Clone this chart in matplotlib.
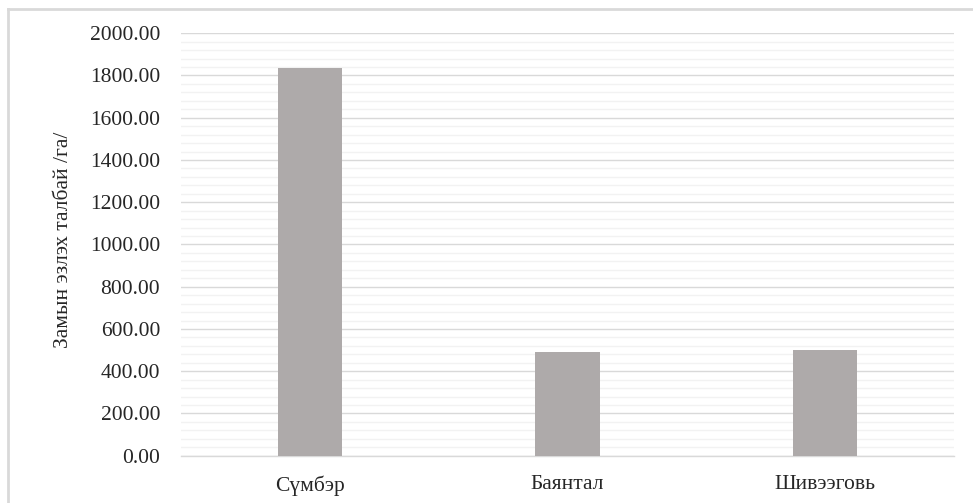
import matplotlib
matplotlib.use("Agg")
import matplotlib.pyplot as plt
from matplotlib.ticker import MultipleLocator, FormatStrFormatter

# Area occupied by roads, by soum (ha)
categories = ["Сүмбэр", "Баянтал", "Шивээговь"]
values = [1836.0, 492.0, 499.0]
y_label = "Замын эзлэх талбай /га/"

plt.rcParams["font.family"] = ["Liberation Serif", "DejaVu Serif"]

fig = plt.figure(figsize=(9.73, 5.03), dpi=100)
ax = fig.add_axes([0.186, 0.094, 0.7945, 0.840])

x = range(len(categories))
ax.bar(x, values, width=0.25, color="#aeaaaa", zorder=3)

ax.set_xlim(-0.5, len(categories) - 0.5)
ax.set_ylim(0, 2000)
ax.yaxis.set_major_locator(MultipleLocator(200))
ax.yaxis.set_minor_locator(MultipleLocator(40))
ax.yaxis.set_major_formatter(FormatStrFormatter("%.2f"))

ax.grid(axis="y", which="major", color="#d9d9d9", linewidth=1.0, zorder=0)
ax.grid(axis="y", which="minor", color="#f2f2f2", linewidth=1.0, zorder=0)

ax.set_xticks(list(x))
ax.set_xticklabels(categories)

for side in ("top", "right", "left"):
    ax.spines[side].set_visible(False)
ax.spines["bottom"].set_color("#d9d9d9")
ax.spines["bottom"].set_linewidth(1.0)

ax.tick_params(axis="both", which="both", length=0, colors="#262626", labelsize=15.5)
ax.tick_params(axis="y", pad=15)
ax.tick_params(axis="x", pad=14)

ax.set_ylabel(y_label, fontsize=15.5, color="#262626")
ax.yaxis.set_label_coords(-0.140, 0.512)

# Chart frame (top and left edges)
fig.add_artist(plt.Line2D([8 / 973, 1.0], [1 - 9 / 503, 1 - 9 / 503],
                          transform=fig.transFigure, color="#d9d9d9", linewidth=2))
fig.add_artist(plt.Line2D([8 / 973, 8 / 973], [0.0, 1 - 9 / 503],
                          transform=fig.transFigure, color="#d9d9d9", linewidth=2))

fig.savefig("out.png", dpi=100, facecolor="white")
